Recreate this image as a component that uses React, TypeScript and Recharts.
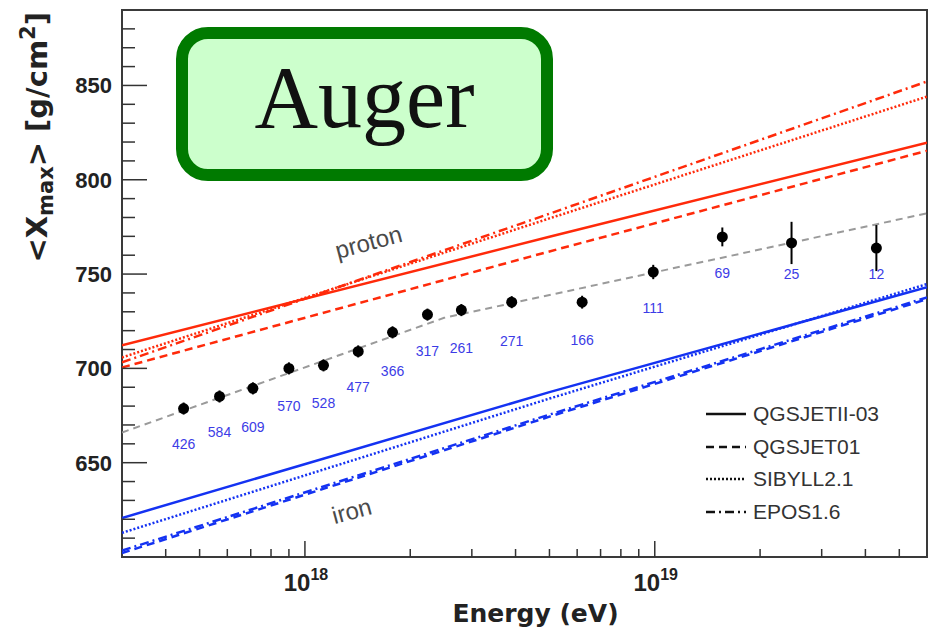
import React from 'react';
import { ComposedChart, Line, Scatter, XAxis, YAxis, ErrorBar, ReferenceArea, Legend } from 'recharts';

const energies = [4.5e17, 5.7e17, 7.1e17, 9.0e17, 1.13e18, 1.42e18, 1.78e18, 2.24e18, 2.8e18, 3.9e18, 6.2e18, 9.9e18, 1.56e19, 2.46e19, 4.3e19];
const xmaxMean = [678.7, 685.1, 689.4, 700, 701.6, 709, 719.1, 728.5, 730.9, 735.1, 735.1, 751.1, 769.7, 766.5, 763.8];
const xmaxErr = [3.2, 3.2, 3.2, 3.2, 3.2, 3.2, 3.2, 3.2, 3.2, 3.2, 3.4, 3.8, 5, 11.2, 12.2];
const nEvents = [426, 584, 609, 570, 528, 477, 366, 317, 261, 271, 166, 111, 69, 25, 12];
const nEventsAt = [660.1, 666.5, 669.1, 680.3, 681.9, 689.9, 698.4, 709, 710.6, 714.4, 714.9, 731.9, 750.5, 750, 750];

// broken-line fit through the data (grey dashed)
const fitEnergies = [3e17, 2.5e18, 6e19];
const fitXmax = [666, 726.8, 782.2];

// model predictions
const modelEnergies = [3e17, 5e18, 6e19];
const modelNames = ['QGSJETII-03', 'QGSJET01', 'SIBYLL2.1', 'EPOS1.6'];
const modelDashes = ['0', '8 5', '2 2', '9 4 2 4'];
const protonQGSJETII = [712.2, 769.8, 819.7];
const protonQGSJET01 = [700.5, 762.0, 815.4];
const protonSIBYLL = [705.8, 779.5, 844.1];
const protonEPOS = [703.2, 782.0, 852.1];
const ironQGSJETII = [620.7, 687.4, 743.0];
const ironQGSJET01 = [602.1, 674.4, 736.7];
const ironSIBYLL = [612.8, 684.0, 744.7];
const ironEPOS = [603.4, 675.5, 737.6];

const annotEnergies = [1.52e18, 1.36e18];
const annotXmax = [767, 624.5];
const annotText = ['proton', 'iron'];

const yTicks = [610, 620, 630, 640, 650, 660, 670, 680, 690, 700, 710, 720, 730, 740, 750, 760, 770, 780, 790, 800, 810, 820, 830, 840, 850, 860, 870, 880];
const yLabels = [650, 700, 750, 800, 850];
const xTicks = [4e17, 5e17, 6e17, 7e17, 8e17, 9e17, 1e18, 2e18, 3e18, 4e18, 5e18, 6e18, 7e18, 8e18, 9e18, 1e19, 2e19, 3e19, 4e19, 5e19];

const RED = '#ff2a0a';
const BLUE = '#1432f2';

const points = energies.map((e, i) => ({ e, v: xmaxMean[i], err: xmaxErr[i] }));
const countLabels = energies.map((e, i) => ({ e, v: nEventsAt[i], n: nEvents[i] }));
const fitLine = fitEnergies.map((e, i) => ({ e, v: fitXmax[i] }));
const annots = annotEnergies.map((e, i) => ({ e, v: annotXmax[i], t: annotText[i] }));
const toLine = (vals: number[]) => modelEnergies.map((e, i) => ({ e, v: vals[i] }));
const protonLines = [protonQGSJETII, protonQGSJET01, protonSIBYLL, protonEPOS].map(toLine);
const ironLines = [ironQGSJETII, ironQGSJET01, ironSIBYLL, ironEPOS].map(toLine);

const sans = '"Liberation Sans", Arial, sans-serif';

const YTick = ({ x, y, payload }: any) => {
  const major = yLabels.includes(payload.value);
  return (
    <g>
      <line x1={x} x2={x + (major ? 25 : 13)} y1={y} y2={y} stroke="#333" strokeWidth={1.5} />
      {major && (
        <text x={x - 10} y={y} dy={8} textAnchor="end" fontFamily={sans} fontWeight="bold" fontSize={22} fill="#222">
          {payload.value}
        </text>
      )}
    </g>
  );
};

const XTick = ({ x, y, payload }: any) => {
  const lg = Math.log10(payload.value);
  const exp = Math.round(lg);
  const major = Math.abs(lg - exp) < 1e-6;
  return (
    <g>
      <line x1={x} x2={x} y1={y} y2={y - (major ? 16 : 8)} stroke="#333" strokeWidth={1.5} />
      {major && (
        <text x={x + 1} y={y + 34} textAnchor="middle" fontFamily={sans} fontWeight="bold" fontSize={24} fill="#222">
          <tspan>10</tspan>
          <tspan dy={-11} fontSize={16}>{exp}</tspan>
        </text>
      )}
    </g>
  );
};

const YTitle = ({ viewBox }: any) => {
  const x = viewBox.x + 47;
  const y = viewBox.y + 2;
  return (
    <text transform={`translate(${x},${y}) rotate(-90)`} textAnchor="end" fontFamily='"DejaVu Sans", sans-serif' fontWeight="bold" fontSize={29} fill="#222">
      <tspan>&lt;X</tspan>
      <tspan dy={6} fontSize={21}>max</tspan>
      <tspan dy={-6}>&gt; [g/cm</tspan>
      <tspan dy={-12} fontSize={21}>2</tspan>
      <tspan dy={12}>]</tspan>
    </text>
  );
};

const XTitle = ({ viewBox }: any) => (
  <text x={viewBox.x + viewBox.width / 2 + 11} y={viewBox.y + 65} textAnchor="middle" fontFamily='"DejaVu Sans", sans-serif' fontWeight="bold" fontSize={25} fill="#222">
    Energy (eV)
  </text>
);

const renderLegend = () => (
  <div style={{ fontFamily: sans, fontSize: 21, color: '#333' }}>
    {modelNames.map((m, i) => (
      <div key={m} style={{ display: 'flex', alignItems: 'center', height: 32.5 }}>
        <svg width={40} height={6}>
          <line x1={0} x2={40} y1={3} y2={3} stroke="#111" strokeWidth={2.5} strokeDasharray={modelDashes[i]} />
        </svg>
        <span style={{ marginLeft: 7 }}>{m}</span>
      </div>
    ))}
  </div>
);

export default function App() {
  return (
    <div style={{ position: 'absolute', left: 0, top: 0, width: 932, height: 635, background: '#fff' }}>
      <ComposedChart width={932} height={635} margin={{ top: 10, right: 5, bottom: 0, left: 0 }}>
        <XAxis
          dataKey="e"
          type="number"
          scale="log"
          domain={[3e17, 6e19]}
          allowDataOverflow
          ticks={xTicks}
          interval={0}
          height={78}
          tickSize={0}
          tickMargin={0}
          tickLine={false}
          axisLine={false}
          tick={<XTick />}
          label={<XTitle />}
        />
        <YAxis
          dataKey="v"
          type="number"
          domain={[600, 890]}
          allowDataOverflow
          ticks={yTicks}
          interval={0}
          width={122}
          tickSize={0}
          tickMargin={0}
          tickLine={false}
          axisLine={false}
          tick={<YTick />}
          label={<YTitle />}
        />
        <ReferenceArea x1={3e17} x2={6e19} y1={600} y2={890} fill="none" stroke="#3a3a3a" strokeWidth={2} ifOverflow="visible" />
        {protonLines.map((d, i) => (
          <Line key={'p' + i} data={d} dataKey="v" type="linear" stroke={RED} strokeWidth={2.5} strokeDasharray={modelDashes[i]} dot={false} isAnimationActive={false} />
        ))}
        {ironLines.map((d, i) => (
          <Line key={'fe' + i} data={d} dataKey="v" type="linear" stroke={BLUE} strokeWidth={2.5} strokeDasharray={modelDashes[i]} dot={false} isAnimationActive={false} />
        ))}
        <Line data={fitLine} dataKey="v" type="linear" stroke="#9a9a9a" strokeWidth={2} strokeDasharray="7 5" dot={false} isAnimationActive={false} />
        <Scatter
          data={annots}
          dataKey="v"
          isAnimationActive={false}
          shape={(p: any) => (
            <text x={p.cx} y={p.cy} transform={`rotate(-15 ${p.cx} ${p.cy})`} textAnchor="middle" dominantBaseline="central" fontFamily={sans} fontSize={24} fill="#4a4a4a">
              {p.payload.t}
            </text>
          )}
        />
        <Scatter
          data={countLabels}
          dataKey="v"
          isAnimationActive={false}
          shape={(p: any) => (
            <text x={p.cx} y={p.cy} textAnchor="middle" dominantBaseline="central" fontFamily={sans} fontSize={14} fill="#3c3ce6">
              {p.payload.n}
            </text>
          )}
        />
        <Scatter
          data={points}
          dataKey="v"
          fill="#000"
          isAnimationActive={false}
          shape={(p: any) => <circle cx={p.cx} cy={p.cy} r={5.5} fill="#000" />}
        >
          <ErrorBar dataKey="err" direction="y" width={0} stroke="#000" strokeWidth={2} isAnimationActive={false} />
        </Scatter>
        <Legend
          layout="vertical"
          align="center"
          verticalAlign="middle"
          content={renderLegend}
          wrapperStyle={{ left: 706, top: 398, width: 200, height: 132 }}
        />
      </ComposedChart>
      <div
        style={{
          position: 'absolute',
          left: 176,
          top: 27,
          width: 377,
          height: 154,
          boxSizing: 'border-box',
          border: '12px solid #007a00',
          borderRadius: 32,
          background: '#ccffcc',
        }}
      >
        <div
          style={{
            position: 'absolute',
            left: 0,
            right: 0,
            top: 15,
            textAlign: 'center',
            fontFamily: '"Liberation Serif", serif',
            fontSize: 88,
            lineHeight: '88px',
            color: '#111',
          }}
        >
          Auger
        </div>
      </div>
    </div>
  );
}
